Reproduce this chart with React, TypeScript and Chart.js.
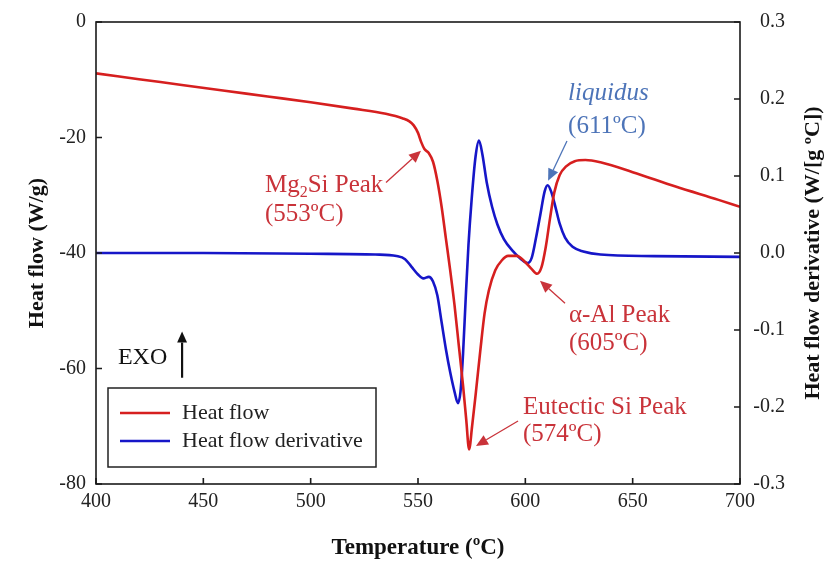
import React, { useEffect, useRef } from 'react';
import { Chart, registerables } from 'chart.js';

Chart.register(...registerables);

// ---------- data ----------
const heatFlowTemp = [400, 420, 440, 460, 480, 500, 520, 535, 543, 546, 548, 550, 551.5, 553, 555, 557, 559, 561, 563, 565, 567, 569, 571, 572.5, 573.8, 575.2, 577, 579, 581, 583, 586, 589, 592, 596, 600, 603, 605.5, 607.5, 609.5, 611.5, 613.5, 616, 619, 623, 628, 635, 650, 670, 690, 700];
const heatFlowValue = [-8.9, -9.9, -10.9, -11.9, -12.9, -13.9, -15.0, -15.9, -16.7, -17.2, -17.9, -19.2, -20.8, -22.0, -22.7, -24.2, -27.5, -32, -37.5, -43, -49, -56, -63, -69, -74, -70, -64, -57, -50.5, -46.5, -43, -41.3, -40.5, -40.5, -41.6, -42.8, -43.6, -42.5, -39, -34, -29.5, -26.5, -25, -24.1, -23.9, -24.3, -26.0, -28.5, -30.8, -32.0];

const derivTemp = [400, 450, 500, 530, 540, 544, 547, 550, 552.5, 555, 557, 559, 561, 563, 565, 567, 568.6, 569.8, 571, 572.2, 573.5, 575, 576.8, 578.4, 580, 582, 584.5, 587, 590, 594, 598, 601, 603, 605, 607, 609, 610.4, 612, 614, 616, 618.5, 622, 627, 635, 660, 700];
const derivValue = [0.0, 0.0, -0.001, -0.002, -0.004, -0.008, -0.018, -0.028, -0.033, -0.031, -0.037, -0.055, -0.09, -0.125, -0.155, -0.18, -0.195, -0.18, -0.13, -0.06, 0.01, 0.07, 0.125, 0.146, 0.128, 0.092, 0.06, 0.037, 0.018, 0.003, -0.008, -0.013, -0.006, 0.02, 0.05, 0.08, 0.088, 0.08, 0.06, 0.038, 0.02, 0.008, 0.002, -0.002, -0.004, -0.005];

const xTickValues = [400, 450, 500, 550, 600, 650, 700];
const leftTickValues = [0, -20, -40, -60, -80];
const rightTickValues = [0.3, 0.2, 0.1, 0.0, -0.1, -0.2, -0.3];

const seriesLabels = ['Heat flow', 'Heat flow derivative'];

const xTitle = 'Temperature (ºC)';
const leftTitle = 'Heat flow (W/g)';
const rightTitle = 'Heat flow derivative (W/[g ºC])';

// ---------- styles ----------
const RED = '#d61f1f';
const BLUE = '#1616c8';
const NOTE_RED = '#c9333a';
const NOTE_BLUE = '#4d74b8';
const SERIF = '"Liberation Serif", "Times New Roman", serif';

type Seg = { t: string; sub?: boolean };
type Note = {
  color: string;
  italicFirst?: boolean;
  x: number; // text left, in °C
  lines: { y: number; segs: Seg[] }[]; // y in W/g (left axis)
  from: [number, number];
  to: [number, number];
};

const notes: Note[] = [
  {
    color: NOTE_RED,
    x: 478.7,
    lines: [
      { y: -28.3, segs: [{ t: 'Mg' }, { t: '2', sub: true }, { t: 'Si Peak' }] },
      { y: -33.3, segs: [{ t: '(553ºC)' }] },
    ],
    from: [535.1, -27.8],
    to: [551.4, -22.3],
  },
  {
    color: NOTE_BLUE,
    italicFirst: true,
    x: 619.9,
    lines: [
      { y: -12.4, segs: [{ t: 'liquidus' }] },
      { y: -18.0, segs: [{ t: '(611ºC)' }] },
    ],
    from: [619.4, -20.6],
    to: [610.6, -27.5],
  },
  {
    color: NOTE_RED,
    x: 620.3,
    lines: [
      { y: -50.8, segs: [{ t: 'α-Al Peak' }] },
      { y: -55.6, segs: [{ t: '(605ºC)' }] },
    ],
    from: [618.5, -48.7],
    to: [606.8, -44.8],
  },
  {
    color: NOTE_RED,
    x: 598.9,
    lines: [
      { y: -66.7, segs: [{ t: 'Eutectic Si Peak' }] },
      { y: -71.5, segs: [{ t: '(574ºC)' }] },
    ],
    from: [596.6, -69.1],
    to: [577.0, -73.4],
  },
];

function arrow(ctx: CanvasRenderingContext2D, x1: number, y1: number, x2: number, y2: number, color: string, lw: number, head: number) {
  const ang = Math.atan2(y2 - y1, x2 - x1);
  const bx = x2 - Math.cos(ang) * head;
  const by = y2 - Math.sin(ang) * head;
  ctx.save();
  ctx.strokeStyle = color;
  ctx.fillStyle = color;
  ctx.lineWidth = lw;
  ctx.beginPath();
  ctx.moveTo(x1, y1);
  ctx.lineTo(bx, by);
  ctx.stroke();
  const w = head * 0.45;
  ctx.beginPath();
  ctx.moveTo(x2, y2);
  ctx.lineTo(bx + Math.sin(ang) * w, by - Math.cos(ang) * w);
  ctx.lineTo(bx - Math.sin(ang) * w, by + Math.cos(ang) * w);
  ctx.closePath();
  ctx.fill();
  ctx.restore();
}

const overlay = {
  id: 'overlay',
  afterDraw(chart: any) {
    const { ctx, chartArea: a, scales } = chart;
    const sx = scales.x, sy = scales.y, sy2 = scales.y2;
    ctx.save();

    // frame
    ctx.strokeStyle = '#1a1a1a';
    ctx.lineWidth = 1.6;
    ctx.strokeRect(a.left, a.top, a.right - a.left, a.bottom - a.top);

    // inward ticks
    ctx.beginPath();
    const TL = 6;
    sx.ticks.forEach((t: any) => {
      const p = sx.getPixelForValue(t.value);
      ctx.moveTo(p, a.bottom);
      ctx.lineTo(p, a.bottom - TL);
    });
    sy.ticks.forEach((t: any) => {
      const p = sy.getPixelForValue(t.value);
      ctx.moveTo(a.left, p);
      ctx.lineTo(a.left + TL, p);
    });
    sy2.ticks.forEach((t: any) => {
      const p = sy2.getPixelForValue(t.value);
      ctx.moveTo(a.right, p);
      ctx.lineTo(a.right - TL, p);
    });
    ctx.stroke();

    // axis titles
    ctx.fillStyle = '#111';
    ctx.font = `bold 23px ${SERIF}`;
    ctx.textAlign = 'center';
    ctx.textBaseline = 'middle';
    ctx.fillText(xTitle, (a.left + a.right) / 2, 548);
    const midY = (a.top + a.bottom) / 2;
    ctx.font = `bold 22px ${SERIF}`;
    ctx.save();
    ctx.translate(37, midY);
    ctx.rotate(-Math.PI / 2);
    ctx.fillText(leftTitle, 0, 0);
    ctx.restore();
    ctx.save();
    ctx.translate(813, midY);
    ctx.rotate(-Math.PI / 2);
    ctx.fillText(rightTitle, 0, 0);
    ctx.restore();

    // EXO marker
    ctx.fillStyle = '#111';
    ctx.font = `24px ${SERIF}`;
    ctx.textAlign = 'left';
    ctx.fillText('EXO', sx.getPixelForValue(410.2), sy.getPixelForValue(-58.2));
    arrow(ctx, sx.getPixelForValue(440.1), sy.getPixelForValue(-61.6), sx.getPixelForValue(440.1), sy.getPixelForValue(-53.6), '#111', 2.2, 11);

    // legend
    const bx = a.left + 12, by = a.bottom - 96, bw = 268, bh = 79;
    ctx.fillStyle = '#fff';
    ctx.fillRect(bx, by, bw, bh);
    ctx.strokeStyle = '#222';
    ctx.lineWidth = 1.5;
    ctx.strokeRect(bx, by, bw, bh);
    ctx.font = `22px ${SERIF}`;
    ctx.textBaseline = 'middle';
    chart.data.datasets.forEach((ds: any, i: number) => {
      const ly = by + 25 + i * 28;
      ctx.strokeStyle = ds.borderColor;
      ctx.lineWidth = 2.5;
      ctx.beginPath();
      ctx.moveTo(bx + 12, ly);
      ctx.lineTo(bx + 62, ly);
      ctx.stroke();
      ctx.fillStyle = '#222';
      ctx.fillText(ds.label, bx + 74, ly);
    });

    // annotations
    notes.forEach((n) => {
      const x0 = sx.getPixelForValue(n.x);
      n.lines.forEach((ln, li) => {
        const yy = sy.getPixelForValue(ln.y);
        let cx = x0;
        ln.segs.forEach((s) => {
          const italic = n.italicFirst && li === 0 ? 'italic ' : '';
          ctx.font = s.sub ? `${italic}16px ${SERIF}` : `${italic}25px ${SERIF}`;
          ctx.fillStyle = n.color;
          ctx.textAlign = 'left';
          ctx.textBaseline = 'middle';
          ctx.fillText(s.t, cx, s.sub ? yy + 7 : yy);
          cx += ctx.measureText(s.t).width;
        });
      });
      arrow(ctx, sx.getPixelForValue(n.from[0]), sy.getPixelForValue(n.from[1]), sx.getPixelForValue(n.to[0]), sy.getPixelForValue(n.to[1]), n.color, 1.3, 12);
    });

    ctx.restore();
  },
};

export default function App() {
  const ref = useRef<HTMLCanvasElement | null>(null);
  useEffect(() => {
    if (!ref.current) return;
    const tickFont = { family: SERIF, size: 20 };
    const chart = new Chart(ref.current, {
      type: 'line',
      data: {
        datasets: [
          {
            label: seriesLabels[0],
            data: heatFlowTemp.map((t, i) => ({ x: t, y: heatFlowValue[i] })),
            borderColor: RED,
            backgroundColor: RED,
            borderWidth: 2.6,
            pointRadius: 0,
            cubicInterpolationMode: 'monotone',
            yAxisID: 'y',
          },
          {
            label: seriesLabels[1],
            data: derivTemp.map((t, i) => ({ x: t, y: derivValue[i] })),
            borderColor: BLUE,
            backgroundColor: BLUE,
            borderWidth: 2.6,
            pointRadius: 0,
            cubicInterpolationMode: 'monotone',
            yAxisID: 'y2',
          },
        ],
      },
      options: {
        responsive: false,
        animation: false,
        layout: { padding: { top: 21, left: 0, right: 46, bottom: 0 } },
        plugins: { legend: { display: false }, tooltip: { enabled: false } },
        scales: {
          x: {
            type: 'linear',
            min: 400,
            max: 700,
            grid: { display: false, drawTicks: false },
            border: { display: false },
            afterBuildTicks: (s: any) => { s.ticks = xTickValues.map((v) => ({ value: v })); },
            afterFit: (s: any) => { s.height = 84; },
            ticks: { font: tickFont, color: '#222', padding: 6, maxRotation: 0, callback: (v: any) => String(v) },
          },
          y: {
            type: 'linear',
            position: 'left',
            min: -80,
            max: 0,
            grid: { display: false, drawTicks: false },
            border: { display: false },
            afterBuildTicks: (s: any) => { s.ticks = leftTickValues.map((v) => ({ value: v })); },
            afterFit: (s: any) => { s.width = 96; },
            ticks: { font: tickFont, color: '#222', padding: 10, callback: (v: any) => String(v) },
          },
          y2: {
            type: 'linear',
            position: 'right',
            min: -0.3,
            max: 0.3,
            grid: { display: false, drawTicks: false },
            border: { display: false },
            afterBuildTicks: (s: any) => { s.ticks = rightTickValues.map((v) => ({ value: v })); },
            afterFit: (s: any) => { s.width = 45; },
            ticks: {
              font: tickFont,
              color: '#222',
              padding: 8,
              crossAlign: 'far',
              callback: (v: any) => (Math.abs(v) < 1e-9 ? 0 : Number(v)).toFixed(1),
            },
          },
        },
      } as any,
      plugins: [overlay],
    });
    return () => chart.destroy();
  }, []);

  return (
    <div style={{ position: 'fixed', left: 0, top: 0, width: 831, height: 568, background: '#fff' }}>
      <canvas ref={ref} width={831} height={568} style={{ width: 831, height: 568, display: 'block' }} />
    </div>
  );
}
